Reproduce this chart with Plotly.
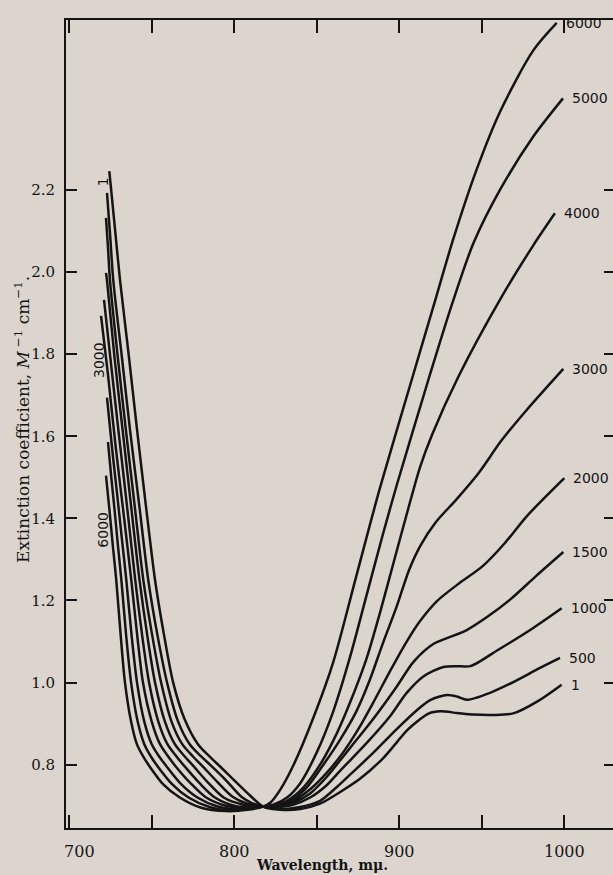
import plotly.graph_objects as go

# ---------------- data ----------------
labels = ["1", "500", "1000", "1500", "2000", "3000", "4000", "5000", "6000"]

wl_1 = [724.3, 727.5, 730.8, 736, 741, 746.5, 752.0, 757.5, 763.0, 770, 778, 785, 791.6, 800, 809.6, 817.4,
        828, 840, 852, 864, 876, 890, 898, 905, 918, 925, 935, 945, 957, 969, 984, 998.4]
ext_1 = [2.246, 2.115, 1.98, 1.80, 1.62, 1.43, 1.25, 1.115, 1.0, 0.91, 0.85, 0.82, 0.795, 0.762, 0.725, 0.698,
         0.690, 0.692, 0.705, 0.733, 0.765, 0.815, 0.852, 0.885, 0.925, 0.930, 0.926, 0.922, 0.921, 0.925, 0.955, 0.995]

wl_500 = [722.9, 724.8, 726.7, 732, 737, 742.5, 747.9, 753.5, 759.3, 766, 773, 780, 786.1, 795, 804.3, 811, 817.4,
          828, 840, 852, 862, 870, 884, 898, 911, 919, 929, 935, 941, 955, 970, 985, 997.4]
ext_500 = [2.193, 2.09, 1.98, 1.79, 1.61, 1.43, 1.25, 1.115, 1.0, 0.905, 0.85, 0.82, 0.797, 0.762, 0.722, 0.706, 0.698,
           0.692, 0.697, 0.712, 0.745, 0.775, 0.828, 0.885, 0.934, 0.958, 0.970, 0.966, 0.958, 0.975, 1.003, 1.035, 1.060]

wl_1000 = [722.3, 723.5, 724.7, 729.5, 734.5, 739.7, 744.9, 750.3, 755.7, 762, 768.5, 775, 780.6, 790, 799, 808, 817.4,
           826, 836, 846, 856, 864.1, 880.3, 894.4, 904.5, 914.6, 926.7, 935, 943, 960, 980, 998.4]
ext_1000 = [2.132, 2.06, 1.98, 1.79, 1.61, 1.43, 1.25, 1.115, 1.0, 0.905, 0.85, 0.82, 0.797, 0.757, 0.722, 0.705, 0.698,
            0.697, 0.703, 0.72, 0.75, 0.785, 0.853, 0.918, 0.975, 1.015, 1.038, 1.040, 1.040, 1.080, 1.130, 1.181]

wl_1500 = [722.3, 722.9, 727.5, 732.5, 737.5, 742.6, 747.3, 752.0, 758, 764, 770, 775.2, 784, 793.6, 805, 817.4,
           826, 836, 846, 856, 864.1, 874, 884.3, 898.4, 908.5, 920.6, 930, 940.9, 954, 967.1, 983, 999.4]
ext_1500 = [1.998, 1.98, 1.79, 1.61, 1.43, 1.25, 1.115, 1.0, 0.905, 0.85, 0.82, 0.797, 0.757, 0.720, 0.703, 0.698,
            0.698, 0.708, 0.73, 0.77, 0.81, 0.86, 0.912, 0.99, 1.05, 1.094, 1.11, 1.128, 1.162, 1.202, 1.26, 1.318]

wl_2000 = [721.1, 725.5, 730.5, 735.3, 740.0, 744.2, 748.4, 754, 759.5, 765, 769.7, 779, 788.3, 800, 810, 817.4,
           826, 836, 846, 856, 866, 876, 885, 894.4, 904.5, 912.6, 922.7, 935, 950.9, 964, 977.2, 1000]
ext_2000 = [1.932, 1.77, 1.59, 1.42, 1.25, 1.115, 1.0, 0.905, 0.85, 0.82, 0.797, 0.755, 0.72, 0.700, 0.696, 0.698,
            0.700, 0.712, 0.74, 0.78, 0.83, 0.892, 0.957, 1.028, 1.100, 1.150, 1.198, 1.238, 1.285, 1.34, 1.405, 1.498]

wl_3000 = [719.3, 723.5, 728, 733, 737.6, 741.2, 744.7, 750, 755, 760, 764.3, 773.5, 783, 795, 807, 817.4,
           824, 834, 844, 854, 864, 874, 882, 890, 898.4, 906, 913, 922, 934.8, 948, 962, 977.2, 999.4]
ext_3000 = [1.893, 1.75, 1.58, 1.41, 1.25, 1.115, 1.0, 0.905, 0.85, 0.82, 0.797, 0.755, 0.72, 0.700, 0.694, 0.698,
            0.700, 0.712, 0.745, 0.80, 0.86, 0.93, 1.005, 1.095, 1.185, 1.275, 1.335, 1.39, 1.447, 1.51, 1.59, 1.664, 1.764]

wl_4000 = [722.9, 726, 729, 731.8, 734.6, 737.8, 741.1, 745.5, 750, 754.5, 758.8, 768, 777.7, 790, 804, 817.4,
           824, 832, 842, 852, 862, 873, 880.3, 888.3, 896.4, 904.5, 912.6, 920, 935.8, 962.1, 981.2, 994.3]
ext_4000 = [1.694, 1.57, 1.46, 1.355, 1.25, 1.115, 1.0, 0.905, 0.85, 0.82, 0.797, 0.752, 0.72, 0.698, 0.691, 0.698,
            0.700, 0.712, 0.745, 0.80, 0.875, 0.98, 1.06, 1.17, 1.29, 1.41, 1.525, 1.605, 1.745, 1.94, 2.065, 2.143]

wl_5000 = [723.5, 725.5, 727.5, 729.5, 731.6, 734.5, 737.5, 741.5, 745.5, 749.5, 753.4, 762.5, 772.3, 785, 800, 817.4,
           824, 832, 840, 850, 860, 870, 880, 890, 898.4, 917.6, 931.8, 944.9, 961, 981.2, 999.2]
ext_5000 = [1.586, 1.50, 1.42, 1.335, 1.25, 1.115, 1.0, 0.905, 0.85, 0.82, 0.797, 0.752, 0.72, 0.697, 0.689, 0.698,
            0.703, 0.72, 0.755, 0.83, 0.93, 1.06, 1.21, 1.36, 1.48, 1.737, 1.92, 2.07, 2.2, 2.33, 2.423]

wl_6000 = [722.3, 724.4, 726.4, 728.5, 731.2, 733.8, 737.5, 741, 744.8, 748.5, 757, 767, 780, 795, 808, 817.4,
           822, 828, 836, 848, 860, 874, 888, 907.5, 920.6, 932.7, 946.9, 961, 981.2, 995.4]
ext_6000 = [1.504, 1.42, 1.335, 1.25, 1.115, 1.0, 0.905, 0.85, 0.82, 0.797, 0.752, 0.72, 0.695, 0.687, 0.690, 0.698,
            0.708, 0.74, 0.80, 0.915, 1.05, 1.26, 1.47, 1.737, 1.915, 2.08, 2.25, 2.39, 2.54, 2.607]

series_wl = [wl_1, wl_500, wl_1000, wl_1500, wl_2000, wl_3000, wl_4000, wl_5000, wl_6000]
series_ext = [ext_1, ext_500, ext_1000, ext_1500, ext_2000, ext_3000, ext_4000, ext_5000, ext_6000]

x_major_ticks = [700, 800, 900, 1000]
x_ticktext = ["\u2007\u2007700", "800", "900", "1000"]
x_minor_ticks = [750, 850, 950]
y_ticks = [0.8, 1.0, 1.2, 1.4, 1.6, 1.8, 2.0, 2.2]
y_ticktext = ["0.8", "1.0", "1.2", "1.4", "1.6", "1.8", "2.0", "2.2"]

left_labelled = ["1", "3000", "6000"]

# ---------------- styling ----------------
BG = "#dcd5ce"
INK = "#141414"
X_RANGE = [698.06, 1029.5]
Y_RANGE = [0.6458, 2.6139]
LABEL_FONT = dict(family="DejaVu Sans", size=14, color=INK)

fig = go.Figure()
for lab, xs, ys in zip(labels, series_wl, series_ext):
    fig.add_trace(go.Scatter(x=xs, y=ys, mode="lines", name=lab,
                             line=dict(color=INK, width=2.5, shape="spline", smoothing=0.8),
                             hoverinfo="skip"))
# helper trace so the right-hand tick axis is drawn
fig.add_trace(go.Scatter(x=[None], y=[None], yaxis="y2", showlegend=False, hoverinfo="skip"))

# right-end curve labels
for lab, xs, ys in zip(labels, series_wl, series_ext):
    fig.add_annotation(x=xs[-1], y=ys[-1], text=lab, showarrow=False,
                       xanchor="left", yanchor="middle", xshift=7, font=LABEL_FONT)

# left-end (rotated) curve labels
left_shift = {"1": (-6, -11), "3000": (-2, -44), "6000": (-3, -54)}
for lab, xs, ys in zip(labels, series_wl, series_ext):
    if lab in left_labelled:
        dx, dy = left_shift[lab]
        fig.add_annotation(x=xs[0], y=ys[0], text=lab, showarrow=False, textangle=-90,
                           xanchor="center", yanchor="middle", xshift=dx, yshift=dy, font=LABEL_FONT)

# axis titles
fig.add_annotation(xref="paper", yref="paper", x=-0.0804, y=0.505, textangle=-90,
                   text="Extinction coefficient, <i>M</i><sup> \u22121</sup> cm<sup>\u22121</sup>.",
                   showarrow=False, xanchor="center", yanchor="middle",
                   font=dict(family="DejaVu Serif", size=17, color=INK))
fig.add_annotation(xref="paper", yref="paper", x=0.4675, y=-0.046,
                   text="<b>Wavelength, m\u03bc.</b>", showarrow=False,
                   xanchor="center", yanchor="middle",
                   font=dict(family="DejaVu Serif", size=14, color=INK))

fig.update_layout(
    width=613, height=875,
    margin=dict(l=66, r=0, t=20, b=47),
    paper_bgcolor=BG, plot_bgcolor=BG,
    showlegend=False,
    xaxis=dict(range=X_RANGE, tickvals=x_major_ticks, ticktext=x_ticktext,
               ticks="inside", ticklen=13, tickwidth=2, tickcolor=INK,
               minor=dict(tickvals=x_minor_ticks, ticks="inside", ticklen=13, tickwidth=2,
                          tickcolor=INK, showgrid=False),
               showline=True, linecolor=INK, linewidth=2, mirror="ticks",
               showgrid=False, zeroline=False, ticklabelstandoff=8,
               tickfont=dict(family="DejaVu Serif", size=16, color=INK)),
    yaxis=dict(range=Y_RANGE, tickvals=y_ticks, ticktext=y_ticktext,
               ticks="inside", ticklen=11, tickwidth=2, tickcolor=INK,
               showline=True, linecolor=INK, linewidth=2,
               showgrid=False, zeroline=False, ticklabelstandoff=6,
               tickfont=dict(family="DejaVu Serif", size=15, color=INK)),
    yaxis2=dict(range=Y_RANGE, overlaying="y", side="right", tickvals=y_ticks,
                ticks="inside", ticklen=9, tickwidth=2, tickcolor=INK,
                showticklabels=False, showline=False, showgrid=False, zeroline=False),
)

fig.write_html("out.html", config={"displayModeBar": False, "staticPlot": True},
               post_script="document.body.style.margin='0';document.body.style.overflow='hidden';"
                           "document.body.style.background='" + BG + "';")
